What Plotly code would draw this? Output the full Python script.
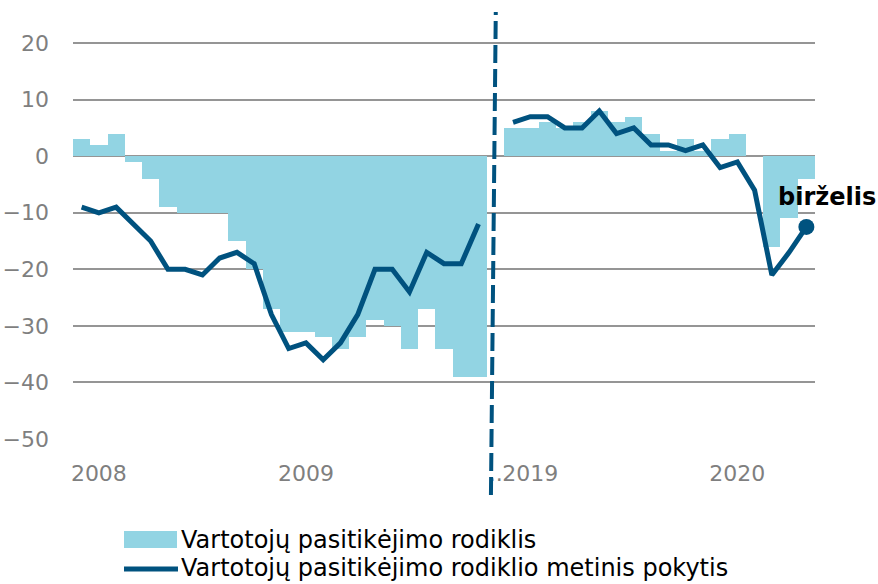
import plotly.graph_objects as go

# ---- data ----
months_a = [f"2008-{m:02d}" for m in range(1, 13)] + [f"2009-{m:02d}" for m in range(1, 13)]
months_b = [f"2019-{m:02d}" for m in range(1, 13)] + [f"2020-{m:02d}" for m in range(1, 7)]
gap_label = "…"

index_a = [3, 2, 4, -1, -4, -9, -10, -10, -10, -15, -20, -27,
           -31, -31, -32, -34, -32, -29, -30, -34, -27, -34, -39, -39]
index_b = [5, 5, 6, 5, 6, 8, 6, 7, 4, 1, 3, 1,
           3, 4, 0, -16, -11, -4]

change_a = [-9, -10, -9, -12, -15, -20, -20, -21, -18, -17, -19, -28,
            -34, -33, -36, -33, -28, -20, -20, -24, -17, -19, -19, -12]
change_b = [6, 7, 7, 5, 5, 8, 4, 5, 2, 2, 1, 2,
            -2, -1, -6, -21, -17, -12.5]

tick_vals = ["2008-02", "2009-02", gap_label, "2019-02", "2020-02"]
tick_text = ["2008", "2009", "..", "2019", "2020"]

name_bar = "Vartotojų pasitikėjimo rodiklis"
name_line = "Vartotojų pasitikėjimo rodiklio metinis pokytis"
last_label = "birželis"

# ---- build ----
cats = months_a + [gap_label] + months_b
bar_vals = index_a + [None] + index_b
line_vals = change_a + [None] + change_b

BAR = "#92D4E3"
LINE = "#00527F"
GRID = "#959595"
TICK = "#7F7F7F"
FONT = "DejaVu Sans, Verdana, sans-serif"

fig = go.Figure()
fig.add_trace(go.Bar(x=cats, y=bar_vals, marker=dict(color=BAR, line=dict(width=0)),
                     width=1.0, name=name_bar, showlegend=False))
fig.add_trace(go.Scatter(x=cats, y=line_vals, mode="lines",
                         line=dict(color=LINE, width=5), connectgaps=False,
                         name=name_line, showlegend=False))
fig.add_trace(go.Scatter(x=[months_b[-1]], y=[change_b[-1]], mode="markers",
                         marker=dict(color=LINE, size=16), showlegend=False, hoverinfo="skip"))

gap_pos = cats.index(gap_label)
fig.add_shape(type="line", xref="x", yref="paper",
              x0=gap_pos - 0.28, y0=-0.131, x1=gap_pos, y1=1.0,
              line=dict(color=LINE, width=4, dash="18px,6px"), layer="above")

fig.add_annotation(x=months_b[-1], y=change_b[-1], xref="x", yref="y",
                   text=f"<b>{last_label}</b>", showarrow=False,
                   xanchor="left", yanchor="middle", xshift=-30, yshift=30,
                   font=dict(family=FONT, size=24, color="#000000"))

# manual legend (wide swatches as in the original)
fig.add_shape(type="rect", xref="paper", yref="paper",
              x0=(124 - 73) / 742, x1=(177 - 73) / 742,
              y0=(439 - 548) / 427, y1=(439 - 531) / 427,
              fillcolor=BAR, line=dict(width=0))
fig.add_shape(type="line", xref="paper", yref="paper",
              x0=(124 - 73) / 742, x1=(178 - 73) / 742,
              y0=(439 - 569) / 427, y1=(439 - 569) / 427,
              line=dict(color=LINE, width=5))
for txt, yy in [(name_bar, 540), (name_line, 568)]:
    fig.add_annotation(xref="paper", yref="paper", x=(180 - 73) / 742, y=(439 - yy) / 427,
                       text=txt, showarrow=False, xanchor="left", yanchor="middle",
                       borderpad=0,
                       font=dict(family=FONT, size=24, color="#000000"))

fig.update_layout(
    width=878, height=584,
    margin=dict(l=73, r=63, t=12, b=145),
    paper_bgcolor="white", plot_bgcolor="white",
    bargap=0,
    font=dict(family=FONT, size=22, color=TICK),
    showlegend=False,
)
fig.update_xaxes(type="category", categoryorder="array", categoryarray=cats,
                 range=[-0.5, len(cats) - 0.5], automargin=False, tickangle=0,
                 tickmode="array", tickvals=tick_vals, ticktext=tick_text,
                 showgrid=False, showline=False, ticks="", zeroline=False,
                 tickfont=dict(family=FONT, size=22, color=TICK), ticklabelstandoff=19)
fig.update_yaxes(range=[-50, 25.5], tickvals=[-50, -40, -30, -20, -10, 0, 10, 20],
                 automargin=False,
                 showgrid=True, gridcolor=GRID, gridwidth=2,
                 zeroline=True, zerolinecolor=GRID, zerolinewidth=2,
                 showline=False, ticks="",
                 tickfont=dict(family=FONT, size=22, color=TICK), ticklabelstandoff=23)

fig.write_html("out.html", config={"displayModeBar": False},
               post_script="document.body.style.margin='0';document.body.style.overflow='hidden';")
